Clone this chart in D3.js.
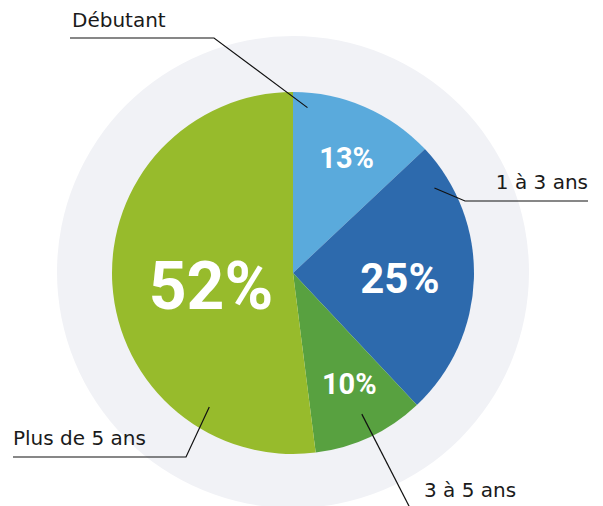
<!DOCTYPE html>
<html>
<head>
<meta charset="utf-8">
<title>Expérience</title>
<script src="https://cdnjs.cloudflare.com/ajax/libs/d3/7.8.5/d3.min.js"></script>
<style>
  body { margin: 0; background: #fff; }
  text { font-family: "DejaVu Sans", sans-serif; }
  text.pct { font-family: Roboto, "DejaVu Sans", sans-serif; }
</style>
</head>
<body>
<div class="container"></div>
<script>
// data
var categories = ["Débutant", "1 à 3 ans", "3 à 5 ans", "Plus de 5 ans"];
var values = [13, 25, 10, 52];
var colors = ["#5aaadc", "#2d6aad", "#58a140", "#97bb2c"];

var width = 603, height = 506;
var cx = 293, cy = 273;
var r = 181, bgR = 236;

// label layout: leader line start (angle deg, radius), elbow, text end
var callouts = [
  { a: 5, rr: 166, elbow: [214, 38], end: [70, 38], tx: 72, ty: 27, anchor: "start" },
  { a: 59, rr: 165, elbow: [465, 201], end: [588, 201], tx: 588, ty: 189, anchor: "end" },
  { a: 154, rr: 157, elbow: [410, 508], end: [410, 508], tx: 424, ty: 497, anchor: "start" },
  { a: 212, rr: 158, elbow: [186, 457], end: [13, 457], tx: 13, ty: 445, anchor: "start" }
];
// percent labels: angle (deg from top), radius, font size
var pctStyle = [
  { a: 25, rr: 127, size: 29 },
  { a: 92.7, rr: 107, size: 42 },
  { a: 153, rr: 124, size: 29 },
  { a: 261, rr: 83, size: 66 }
];

var svg = d3.select(".container").append("svg")
  .attr("width", width).attr("height", height);

svg.append("circle")
  .attr("cx", cx).attr("cy", cy - 1).attr("r", bgR)
  .attr("fill", "#f1f2f6");

var pie = d3.pie().sort(null).value(d => d);
var arcs = pie(values);
var arc = d3.arc().innerRadius(0).outerRadius(r);

var g = svg.append("g").attr("transform", `translate(${cx},${cy})`);

g.selectAll("path.slice")
  .data(arcs).enter().append("path")
  .attr("class", "slice")
  .attr("d", arc)
  .attr("fill", (d, i) => colors[i]);

g.selectAll("text.pct")
  .data(arcs).enter().append("text")
  .attr("class", "pct")
  .attr("transform", function (d, i) {
    var s = pctStyle[i], ang = s.a * Math.PI / 180;
    return `translate(${s.rr * Math.sin(ang)},${-s.rr * Math.cos(ang)})`;
  })
  .attr("text-anchor", "middle")
  .attr("dy", "0.355em")
  .attr("fill", "#fff")
  .attr("font-weight", "bold")
  .attr("font-size", (d, i) => pctStyle[i].size)
  .text(d => d.data + "%");

// leader lines
svg.selectAll("polyline.leader")
  .data(callouts).enter().append("polyline")
  .attr("class", "leader")
  .attr("points", function (d) {
    var ang = d.a * Math.PI / 180;
    var x0 = cx + d.rr * Math.sin(ang), y0 = cy - d.rr * Math.cos(ang);
    return [[x0, y0], d.elbow, d.end].map(p => p.join(",")).join(" ");
  })
  .attr("fill", "none")
  .attr("stroke", "#111")
  .attr("stroke-width", 1.2);

svg.selectAll("text.cat")
  .data(callouts).enter().append("text")
  .attr("class", "cat")
  .attr("x", d => d.tx).attr("y", d => d.ty)
  .attr("text-anchor", d => d.anchor)
  .attr("font-size", 20)
  .attr("fill", "#1a1a1a")
  .text((d, i) => categories[i]);
</script>
</body>
</html>
